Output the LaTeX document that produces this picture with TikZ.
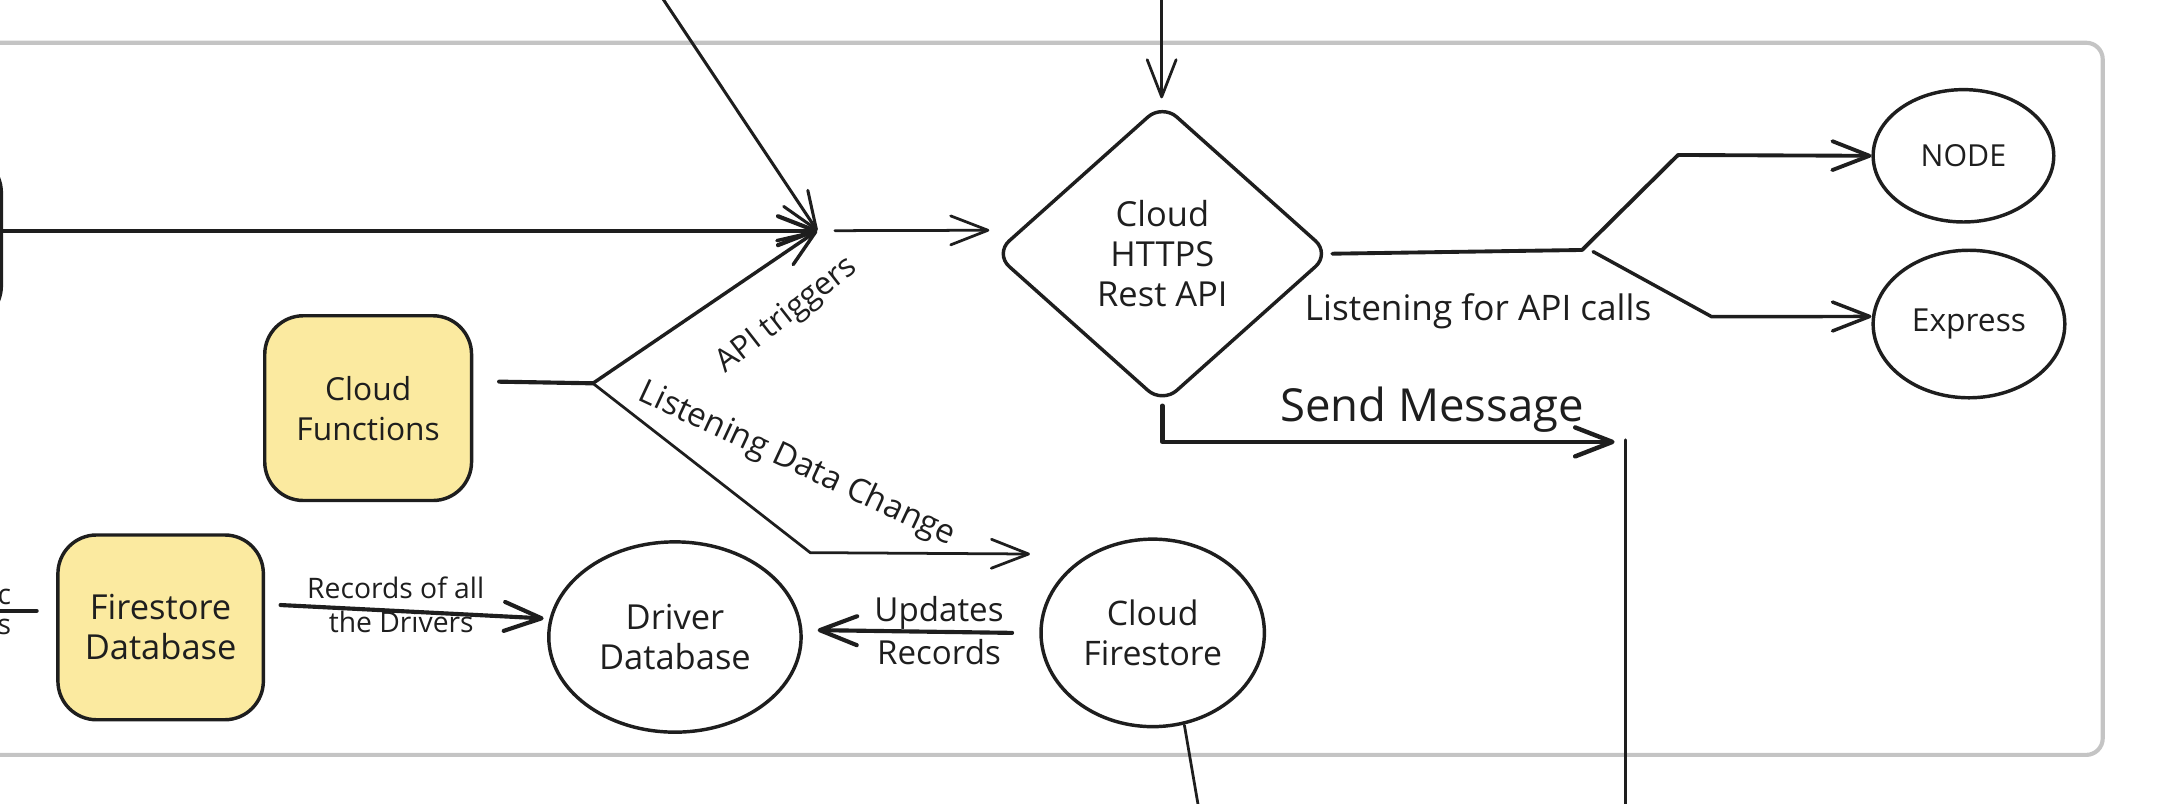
\documentclass[tikz,border=0pt]{standalone}
\usepackage{fontspec}
\setmainfont{Open Sans}
\usetikzlibrary{shapes.geometric,arrows.meta}
\definecolor{ink}{HTML}{1E1E1E}
\definecolor{framec}{HTML}{C4C4C4}
\definecolor{yel}{HTML}{FBEAA0}
\newcommand{\fsz}[1]{\fontsize{#1}{29}\selectfont}
\begin{document}
\begin{tikzpicture}[x=1pt,y=-1pt,line cap=round,line join=round,color=ink,line width=2pt,
  arr/.style={-{Straight Barb[length=27pt,width=21pt,round]}},
  lbl/.style={text=ink,align=center,inner sep=0pt},
  ybox/.style={draw=ink,fill=yel,rounded corners=28pt,line width=2.5pt,inner sep=0pt,align=center},
  ell/.style={draw=ink,ellipse,line width=2.5pt,inner sep=0pt,align=center}]
\useasboundingbox (0,0) rectangle (1568,583);
\clip (0,0) rectangle (1568,583);

% frame
\draw[framec,line width=3pt,rounded corners=12pt] (-30,31) rectangle (1525,547.5);

% nodes
\node[draw,line width=2.5pt,rounded corners=30pt,minimum width=151pt,minimum height=127pt,inner sep=0pt] (src) at (-74.5,173.5) {};
\node[diamond,draw,line width=2.5pt,rounded corners=14pt,minimum width=244pt,minimum height=218pt,inner sep=0pt,align=center,font=\fsz{25}] (api) at (843,184) {Cloud\\HTTPS\\Rest API};
\node[ell,minimum width=131pt,minimum height=96pt,font=\fsz{22}] (nodeE) at (1424,113) {NODE};
\node[ell,minimum width=139pt,minimum height=107pt,font=\fsz{23}] (expr) at (1428,235) {Express};
\node[ybox,minimum width=150pt,minimum height=134pt,font=\fsz{23}] (cf) at (267,296) {Cloud\\Functions};
\node[ybox,minimum width=149pt,minimum height=134pt,font=\fsz{25}] (fdb) at (116.5,455) {Firestore\\Database};
\node[ell,minimum width=183pt,minimum height=138pt,font=\fsz{25}] (ddb) at (489.5,462) {Driver\\Database};
\node[ell,minimum width=162pt,minimum height=136pt,font=\fsz{24.5}] (cfs) at (836,459) {Cloud\\Firestore};

% coordinates
\coordinate (hub) at (592.7,167.3);
\coordinate (top1) at (478,-5);
\coordinate (hubout) at (605.5,167.3);
\coordinate (apiin) at (717.5,167);
\coordinate (top2) at (842.5,-5);
\coordinate (apitop) at (842.5,71.3);
\coordinate (cfout) at (362,276.8);
\coordinate (br1) at (430,278);
\coordinate (ldcbend) at (587.6,400.8);
\coordinate (ldctip) at (747,401.8);
\coordinate (br2) at (1147.4,181.3);
\coordinate (br2b) at (1155.4,182.5);
\coordinate (nodebend) at (1217,112.4);
\coordinate (exbend) at (1241.4,229.7);
\coordinate (smbend) at (843,320.5);
\coordinate (smtip) at (1171,320.5);
\coordinate (vtop) at (1179,319);
\coordinate (vbot) at (1179,590);
\coordinate (recfrom) at (203.5,438.8);
\coordinate (recto) at (394.3,448.5);
\coordinate (updfrom) at (734,459);
\coordinate (updto) at (593,457);
\coordinate (cfsbot) at (870,590);
\coordinate (cfsout) at (859,526);
\coordinate (lfrag1) at (-5,443);
\coordinate (lfrag2) at (26.6,443);

% connectors
\draw[arr,line width=2.2pt] (top1) -- (hub);
\draw[arr,line width=3pt] (src.east |- hub) -- (hub);
\draw[arr] (hubout) -- (apiin);
\draw[arr] (top2) -- (apitop);
\draw[line width=3pt] (cfout) -- (br1);
\draw[arr,line width=2.5pt] (br1) -- (hub);
\draw[arr] (br1) -- (ldcbend) -- (ldctip);
\draw[line width=2.8pt] (api.east) -- (br2);
\draw[arr,line width=2.8pt] (br2) -- (nodebend) -- (nodeE.west);
\draw[arr,line width=2.5pt] (br2b) -- (exbend) -- ([yshift=5.5pt]expr.west);
\draw[arr,line width=3.2pt] (api.south) -- (smbend) -- (smtip);
\draw (vtop) -- (vbot);
\draw[arr,line width=3pt] (recfrom) -- (recto);
\draw[arr,line width=3pt] (updfrom) -- (updto);
\draw (cfsout) -- (cfsbot);
\draw[line width=3pt] (lfrag1) -- (lfrag2);

% labels
\node[lbl,font=\fsz{25.5}] (l1) at (1072,226) {Listening for API calls};
\node[lbl,font=\fsz{33}] (l2) at (1038.6,297.4) {Send Message};
\node[lbl,font=\fsz{23},rotate=38] (l3) at (571,229) {API triggers};
\node[lbl,font=\fsz{24},rotate=-25] (l4) at (578,337) {Listening Data Change};
\node[lbl,font=\fsz{24}] (l5) at (681,444.7) {Updates};
\node[lbl,font=\fsz{24}] (l6) at (681,472.6) {Records};
\node[lbl,font=\fsz{20.5}] (l7) at (287,426.6) {Records of all};
\node[lbl,font=\fsz{20.5}] (l8) at (291,451) {the Drivers};
\node[lbl,font=\fsz{20.5},anchor=east] (l9) at (9,433) {c};
\node[lbl,font=\fsz{20.5},anchor=east] (l10) at (9,455) {s};
\end{tikzpicture}
\end{document}
